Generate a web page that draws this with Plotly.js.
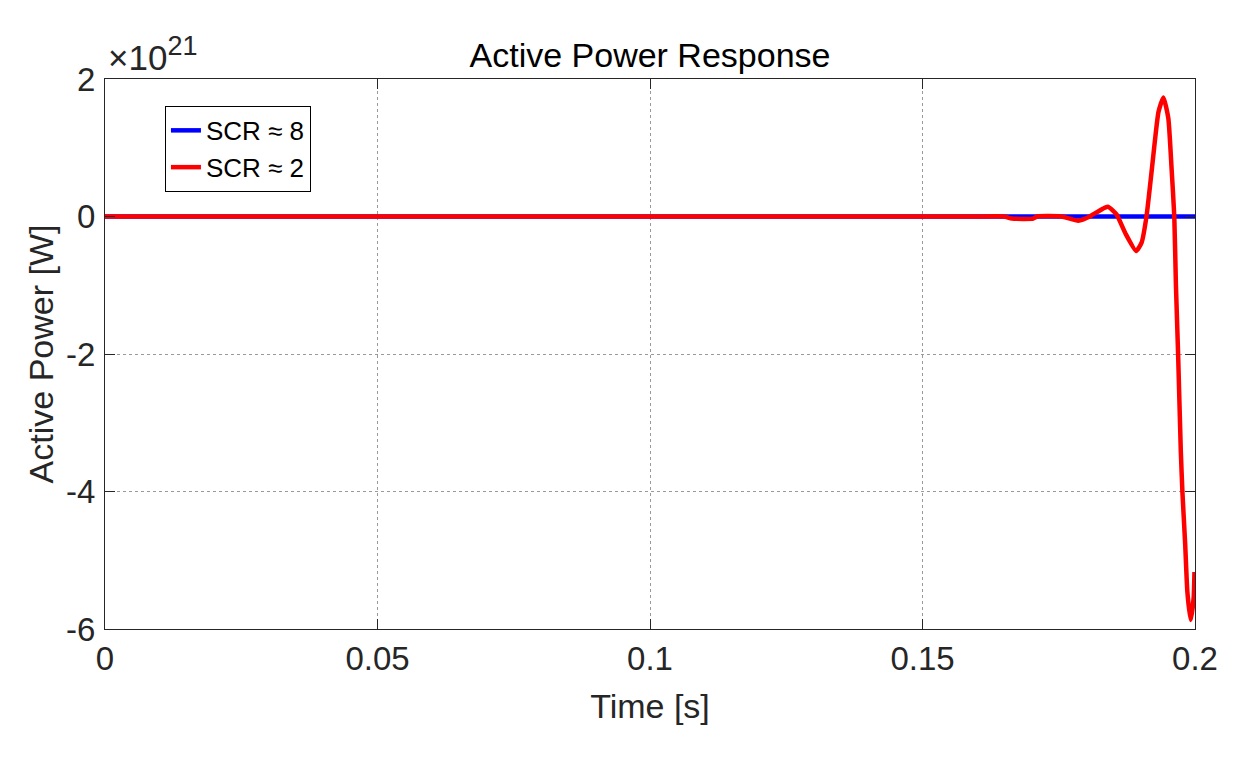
<!DOCTYPE html>
<html>
<head>
<meta charset="utf-8">
<script src="https://cdn.plot.ly/plotly-3.0.1.min.js"></script>
<style>html,body{margin:0;padding:0;background:#fff;}#chart{width:1257px;height:758px;}</style>
</head>
<body>
<div id="chart"></div>
<script>
// Time [s]
const tStrong = [0, 0.2];
// Active power, units of 1e21 W
const pStrong = [0, 0];

const tWeak = [0, 0.04, 0.08, 0.12, 0.15, 0.16, 0.165, 0.1664, 0.1703, 0.1710, 0.1755, 0.1786, 0.1807, 0.1813, 0.1835, 0.1841, 0.1856, 0.1872, 0.1892, 0.1902, 0.1911, 0.1921, 0.1933, 0.1942, 0.1951, 0.1957, 0.1962, 0.1965, 0.1969, 0.1974, 0.1977, 0.1982, 0.1986, 0.1992, 0.19975, 0.1999];
const pWeak = [0, 0, 0, 0, 0, 0, 0, -0.03, -0.03, 0, 0, -0.06, 0, 0.03, 0.13, 0.14, 0.03, -0.24, -0.50, -0.38, 0, 0.70, 1.52, 1.73, 1.43, 0.70, 0, -1.0, -2.0, -3.42, -4.02, -4.77, -5.46, -5.87, -5.55, -5.17];

const xTickVals = [0, 0.05, 0.1, 0.15, 0.2];
const xTickText = ["0", "0.05", "0.1", "0.15", "0.2"];
const yTickVals = [-6, -4, -2, 0, 2];
const yTickText = ["-6", "-4", "-2", "0", "2"];

const seriesNames = ["SCR \u2248 8", "SCR \u2248 2"];

const FONT = "Liberation Sans, Arial, Helvetica, sans-serif";
const AX = "#262626";

const traces = [
  {x: tStrong, y: pStrong, name: seriesNames[0], mode: "lines",
   line: {color: "#0000ff", width: 4.5}},
  {x: tWeak, y: pWeak, name: seriesNames[1], mode: "lines",
   line: {color: "#ff0000", width: 4.5, shape: "spline", smoothing: 0.5}}
];

const axisCommon = {
  showline: true, linecolor: AX, linewidth: 1, mirror: "allticks",
  ticks: "inside", ticklen: 10, tickcolor: AX, tickwidth: 1,
  showgrid: true, gridcolor: "#9a9a9a", griddash: "dot", gridwidth: 1,
  zeroline: false, tickfont: {family: FONT, size: 33, color: AX},
  tickmode: "array"
};

const layout = {
  width: 1257, height: 758,
  paper_bgcolor: "#fff", plot_bgcolor: "#fff",
  margin: {l: 105, r: 62, t: 79, b: 129},
  font: {family: FONT, color: AX},
  title: {text: "Active Power Response", font: {family: FONT, size: 34, color: "#000"},
          x: 0.5, xref: "paper", y: 1 - 55/758, yref: "container", yanchor: "middle"},
  xaxis: Object.assign({}, axisCommon, {
    range: [0, 0.2], tickvals: xTickVals, ticktext: xTickText,
    title: {text: "Time [s]", font: {family: FONT, size: 34, color: AX}, standoff: 18}
  }),
  yaxis: Object.assign({}, axisCommon, {
    range: [-6, 2], tickvals: yTickVals, ticktext: yTickText,
    ticklabelstandoff: 2,
    title: {text: "Active Power [W]", font: {family: FONT, size: 34, color: AX}, standoff: 2}
  }),
  showlegend: true,
  legend: {x: 0.055, y: 0.951, xanchor: "left", yanchor: "top",
           bgcolor: "#fff", bordercolor: "#000", borderwidth: 1,
           font: {family: FONT, size: 26, color: "#000"},
           tracegroupgap: 0, itemwidth: 30},
  annotations: [{
    text: "\u00d710<sup><span style='font-size:27px'>21</span></sup>", xref: "paper", yref: "paper",
    x: 0, y: 1, xanchor: "left", yanchor: "bottom", yshift: 0, xshift: 1,
    showarrow: false, font: {family: FONT, size: 35, color: AX}
  }]
};

Plotly.newPlot("chart", traces, layout, {displayModeBar: false, staticPlot: true});
</script>
</body>
</html>
